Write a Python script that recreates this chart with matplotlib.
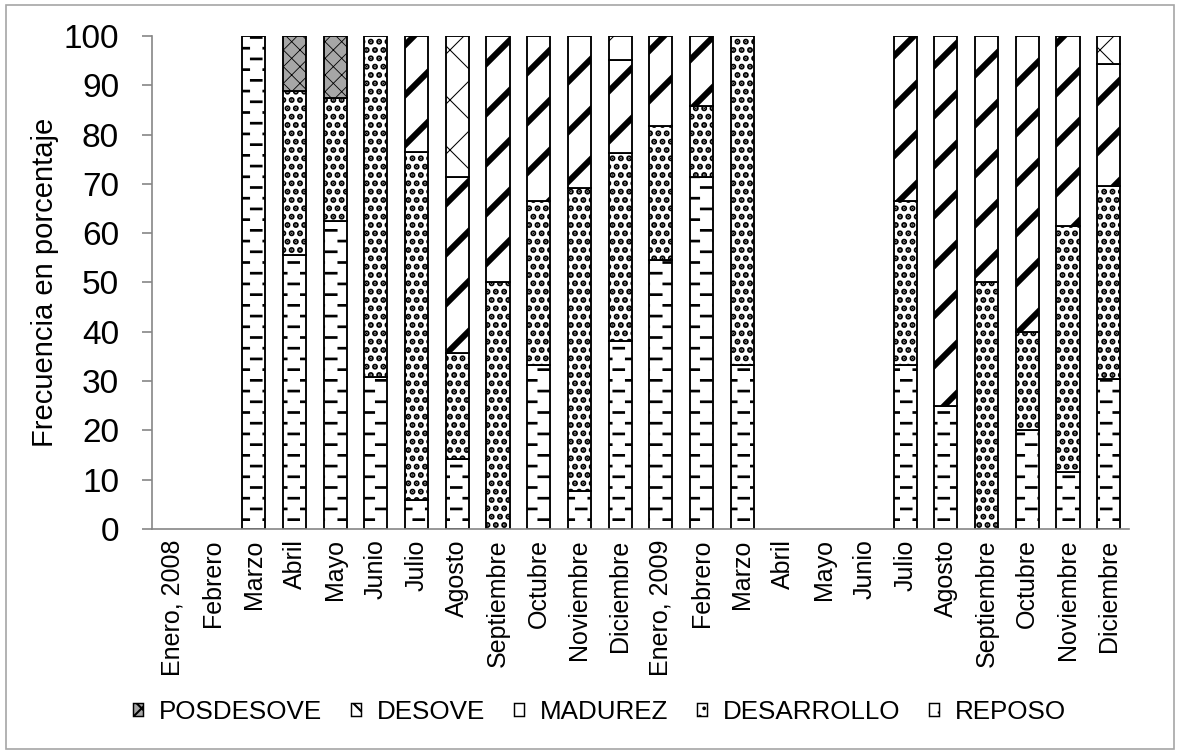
#!/usr/bin/env python3

import matplotlib
matplotlib.use("Agg")
import matplotlib.pyplot as plt
import matplotlib.hatch as mhatch
from matplotlib import font_manager
from matplotlib.path import Path
from matplotlib.patches import Rectangle, Patch
import numpy as np

months = ["Enero, 2008", "Febrero", "Marzo", "Abril", "Mayo", "Junio", "Julio",
          "Agosto", "Septiembre", "Octubre", "Noviembre", "Diciembre",
          "Enero, 2009", "Febrero", "Marzo", "Abril", "Mayo", "Junio", "Julio",
          "Agosto", "Septiembre", "Octubre", "Noviembre", "Diciembre"]

# percentages per stage
reposo     = [0, 0, 100, 55.6, 62.5, 30.8, 5.9, 14.3, 0, 33.3, 7.7, 38.1,
              54.5, 71.4, 33.3, 0, 0, 0, 33.3, 25, 0, 20, 11.5, 30.4]
desarrollo = [0, 0, 0, 33.3, 25, 69.2, 70.6, 21.4, 50, 33.3, 61.5, 38.1,
              27.3, 14.3, 66.7, 0, 0, 0, 33.3, 0, 50, 20, 50, 39.1]
madurez    = [0, 0, 0, 0, 0, 0, 23.5, 35.7, 50, 33.4, 30.8, 19.0,
              18.2, 14.3, 0, 0, 0, 0, 33.4, 75, 50, 60, 38.5, 24.9]
desove     = [0, 0, 0, 0, 0, 0, 0, 28.6, 0, 0, 0, 4.8,
              0, 0, 0, 0, 0, 0, 0, 0, 0, 0, 0, 5.6]
posdesove  = [0, 0, 0, 11.1, 12.5, 0, 0, 0, 0, 0, 0, 0,
              0, 0, 0, 0, 0, 0, 0, 0, 0, 0, 0, 0]


class DashRows(mhatch.HatchPatternBase):
    # staggered short dashes in place of the full lines of '-'
    def __init__(self, hatch, density):
        self.num_rows = hatch.count("-") * 7
        self.per_row = 6
        self.num_vertices = self.num_rows * self.per_row * 2

    def set_vertices_and_codes(self, vertices, codes):
        k = 0
        for i in range(self.num_rows):
            y = (i + 0.5) / self.num_rows
            shift = 0.25 if i % 2 == 0 else 0.75
            for j in range(self.per_row):
                xc = (j + shift) / self.per_row
                vertices[k] = (xc - 0.033, y)
                vertices[k + 1] = (xc + 0.033, y)
                codes[k] = Path.MOVETO
                codes[k + 1] = Path.LINETO
                k += 2


mhatch._hatch_types[mhatch._hatch_types.index(mhatch.HorizontalHatch)] = DashRows

names = {f.name for f in font_manager.fontManager.ttflist}
if "Liberation Sans Narrow" in names:
    plt.rcParams["font.family"] = "Liberation Sans Narrow"
else:
    plt.rcParams["font.family"] = "Liberation Sans"

fig = plt.figure(figsize=(1180 / 150, 754 / 150), dpi=150)
ax = fig.add_axes([0.1288, 0.2984, 0.828, 0.6539])

x = np.arange(len(months))
w = 0.57
series = [
    ("REPOSO", reposo, "white", "--", 1.3),
    ("DESARROLLO", desarrollo, "white", "...", 2.0),
    ("MADUREZ", madurez, "white", "/", 2.9),
    ("DESOVE", desove, "white", "x", 0.5),
    ("POSDESOVE", posdesove, "#a6a6a6", "xxx", 0.4),
]

bottom = np.zeros(len(months))
handles = []
for name, vals, fc, hatch, hlw in series:
    # no outline on empty segments, so the axis line stays grey
    lws = [0.9 if v > 0 else 0 for v in vals]
    with plt.rc_context({"hatch.linewidth": hlw}):
        ax.bar(x, vals, w, bottom=bottom, color=fc, edgecolor="black",
               linewidth=lws, hatch=hatch)
        handles.append(Patch(facecolor=fc, edgecolor="black", linewidth=0.7,
                             hatch=hatch, label=name))
    bottom = bottom + np.array(vals)

ax.set_xlim(-0.5, len(months) - 0.5)
ax.set_ylim(0, 100)
ax.set_yticks(range(0, 101, 10))
ax.set_xticks(x)
ax.set_xticklabels(months, rotation=90, fontsize=12)
ax.tick_params(axis="x", length=0, pad=5)
ax.tick_params(axis="y", length=4.8, width=0.8, color="#868686", pad=11, labelsize=16)
for s in ["top", "right"]:
    ax.spines[s].set_visible(False)
for s in ["left", "bottom"]:
    ax.spines[s].set_color("#868686")
    ax.spines[s].set_linewidth(0.8)

ax.set_ylabel("Frecuencia en porcentaje", fontsize=14)
ax.yaxis.set_label_coords(-0.095, 0.5)

ax.legend(handles=handles[::-1], loc="center",
          bbox_to_anchor=(0.508, 0.056), bbox_transform=fig.transFigure,
          ncol=5, frameon=False, fontsize=12.5, handlelength=0.4,
          handleheight=0.4, handletextpad=0.6, columnspacing=1.1)

fig.add_artist(Rectangle((0.005, 0.007), 0.99, 0.986, transform=fig.transFigure,
                         fill=False, edgecolor="#a6a6a6", linewidth=0.8))

fig.savefig("out.png", dpi=150)
